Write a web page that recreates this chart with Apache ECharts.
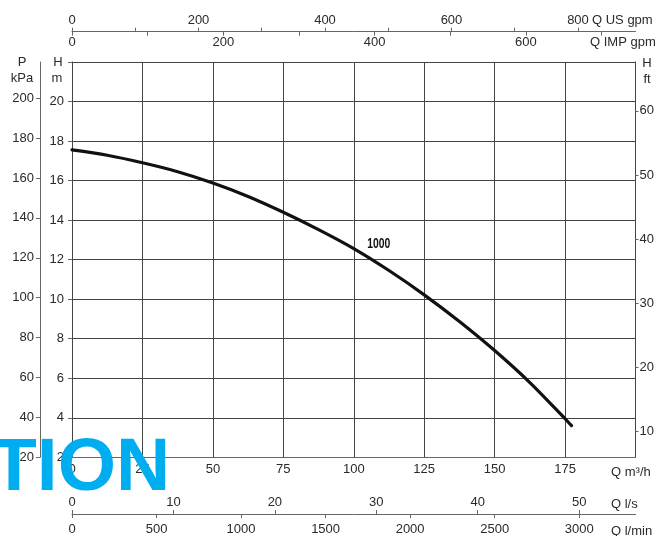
<!DOCTYPE html>
<html><head><meta charset="utf-8">
<script src="https://cdn.jsdelivr.net/npm/echarts@6/dist/echarts.min.js"></script>
<style>html,body{margin:0;padding:0;background:#fff}#c{width:657px;height:536px}</style>
</head><body><div id="c"></div>
<script>
// Pump curve data (flow in m³/h, head in m)
const flowM3h = [0, 12.5, 25, 37.5, 50, 62.5, 75, 87.5, 100, 112.5, 125, 137.5, 150, 162.5, 175, 177.3];
const headM   = [17.55, 17.28, 16.9, 16.45, 15.88, 15.2, 14.4, 13.52, 12.56, 11.45, 10.22, 8.87, 7.4, 5.78, 3.95, 3.6];
const curveName = '1000';

// Tick / label values for each scale
const qM3hLabels = [0, 25, 50, 75, 100, 125, 150, 175];
const headMLabels = [2, 4, 6, 8, 10, 12, 14, 16, 18, 20];
const pressureKpaLabels = [20, 40, 60, 80, 100, 120, 140, 160, 180, 200];
const headFtLabels = [10, 20, 30, 40, 50, 60];
const usGpmLabels = [0, 200, 400, 600, 800];
const usGpmTicks = [0, 100, 200, 300, 400, 500, 600, 700, 800];
const impGpmLabels = [0, 200, 400, 600];
const impGpmTicks = [0, 100, 200, 300, 400, 500, 600, 700];
const lsLabels = [0, 10, 20, 30, 40, 50];
const lminLabels = [0, 500, 1000, 1500, 2000, 2500, 3000];

const FONT = '"Liberation Sans", Arial, Helvetica, sans-serif';
const TXT = '#2a2a2a';
const AX = '#666';
const GRID = '#444';

const plain = v => String(v);
const lbl = (extra) => Object.assign({color: TXT, fontSize: 13, fontFamily: FONT, formatter: plain}, extra);

const chart = echarts.init(document.getElementById('c'), null, {renderer: 'canvas'});

const graphicTexts = [
  ['P', 22, 62, 'center'], ['kPa', 22, 78, 'center'],
  ['H', 58, 62, 'center'], ['m', 57, 78, 'center'],
  ['H', 647, 63, 'center'], ['ft', 647, 79, 'center'],
  ['Q US gpm', 592, 20, 'left'], ['Q IMP gpm', 590, 42, 'left'],
  ['Q m³/h', 611, 472, 'left'], ['Q l/s', 611, 504, 'left'], ['Q l/min', 611, 531, 'left']
].map(([t, x, y, a]) => ({
  type: 'text', x, y, z: 10,
  style: {text: t, fill: TXT, font: '13px ' + FONT, align: a, textAlign: a, verticalAlign: 'middle', textVerticalAlign: 'middle'}
}));

const watermark = {
  type: 'text', x: -9, y: 469, z: 100,
  style: {text: 'TION', fill: '#00AEEF', font: 'bold 75px ' + FONT, align: 'left', textAlign: 'left', verticalAlign: 'middle', textVerticalAlign: 'middle'}
};

chart.setOption({
  animation: false,
  backgroundColor: '#fff',
  grid: {left: 72, right: 20.5, top: 62, bottom: 77},
  xAxis: [
    { // Q m³/h
      type: 'value', position: 'bottom', min: 0, max: 200, interval: 25,
      axisLine: {show: true, lineStyle: {color: AX, width: 1}},
      axisTick: {show: false},
      axisLabel: lbl({customValues: qM3hLabels, margin: 6}),
      splitLine: {show: true, lineStyle: {color: GRID, width: 1}}
    },
    { // Q l/s
      type: 'value', position: 'bottom', offset: 56.7, min: 0, max: 200 / 3.6,
      axisLine: {show: true, onZero: false, lineStyle: {color: AX, width: 1}},
      axisTick: {show: true, inside: true, length: 4, customValues: lsLabels, lineStyle: {color: AX}},
      axisLabel: lbl({inside: true, customValues: lsLabels, margin: 5}),
      splitLine: {show: false}
    },
    { // Q l/min
      type: 'value', position: 'bottom', offset: 56.7, min: 0, max: 200 * 1000 / 60,
      axisLine: {show: false},
      axisTick: {show: true, length: 4, customValues: lminLabels, lineStyle: {color: AX}},
      axisLabel: lbl({customValues: lminLabels, margin: 9}),
      splitLine: {show: false}
    },
    { // Q US gpm
      type: 'value', position: 'top', offset: 30.3, min: 0, max: 891,
      axisLine: {show: true, onZero: false, lineStyle: {color: AX, width: 1}},
      axisTick: {show: true, length: 4, customValues: usGpmTicks, lineStyle: {color: AX}},
      axisLabel: lbl({customValues: usGpmLabels, margin: 5}),
      splitLine: {show: false}
    },
    { // Q IMP gpm
      type: 'value', position: 'top', offset: 30.3, min: 0, max: 745,
      axisLine: {show: false},
      axisTick: {show: true, inside: true, length: 4, customValues: impGpmTicks, lineStyle: {color: AX}},
      axisLabel: lbl({inside: true, customValues: impGpmLabels, margin: 4}),
      splitLine: {show: false}
    }
  ],
  yAxis: [
    { // H m
      type: 'value', position: 'left', min: 2, max: 22, interval: 2,
      axisLine: {show: true, lineStyle: {color: GRID, width: 1}},
      axisTick: {show: true, length: 4, lineStyle: {color: AX}},
      axisLabel: lbl({customValues: headMLabels, margin: 8}),
      splitLine: {show: true, lineStyle: {color: GRID, width: 1}}
    },
    { // P kPa
      type: 'value', position: 'left', offset: 32, min: 20, max: 218.1,
      axisLine: {show: true, onZero: false, lineStyle: {color: AX, width: 1}},
      axisTick: {show: true, length: 4, customValues: pressureKpaLabels, lineStyle: {color: AX}},
      axisLabel: lbl({customValues: pressureKpaLabels, margin: 6}),
      splitLine: {show: false}
    },
    { // H ft
      type: 'value', position: 'right', min: 6, max: 67.6,
      axisLine: {show: true, onZero: false, lineStyle: {color: GRID, width: 1}},
      axisTick: {show: true, length: 3, customValues: headFtLabels, lineStyle: {color: AX}},
      axisLabel: lbl({customValues: headFtLabels, margin: 4}),
      splitLine: {show: false}
    }
  ],
  series: [{
    type: 'line', name: curveName, xAxisIndex: 0, yAxisIndex: 0,
    data: flowM3h.map((q, i) => [q, headM[i]]),
    smooth: 0.3, showSymbol: false, symbol: 'none',
    lineStyle: {color: '#111', width: 3.2, cap: 'round'},
    z: 5
  }],
  graphic: graphicTexts.concat([watermark])
});

// curve name label, placed through the chart's own scales
const p = chart.convertToPixel({xAxisIndex: 0, yAxisIndex: 0}, [108.9, 12.78]);
chart.setOption({
  graphic: graphicTexts.concat([watermark, {
    type: 'text', x: p[0], y: p[1], z: 20, scaleX: 0.74,
    style: {text: curveName, fill: '#111', font: 'bold 14px ' + FONT, align: 'center', textAlign: 'center', verticalAlign: 'middle', textVerticalAlign: 'middle'}
  }])
});
</script>
</body></html>
